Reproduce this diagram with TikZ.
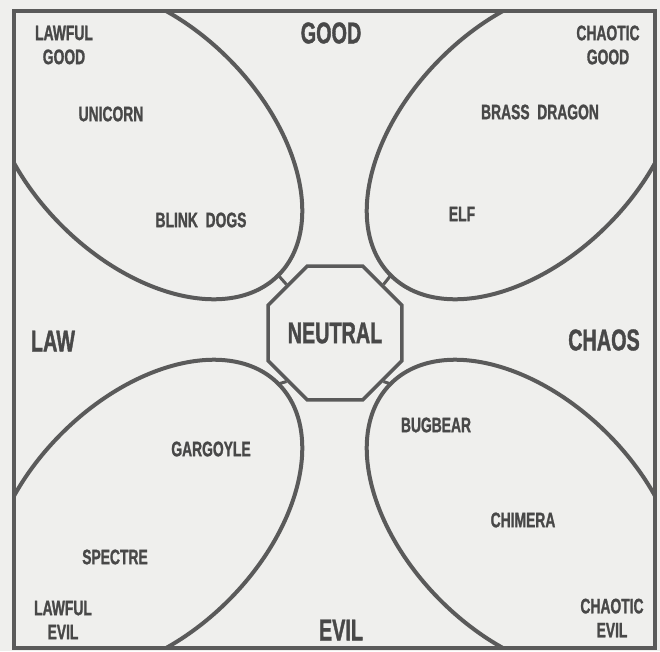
\documentclass[tikz,border=0pt]{standalone}
\usepackage{fontspec}
\setmainfont{Liberation Sans}[FakeStretch=0.66,FakeBold=1.2]
\usetikzlibrary{shapes.geometric}
\definecolor{lineg}{HTML}{5A5A5A}
\definecolor{inkg}{HTML}{484848}
\definecolor{paper}{HTML}{EFEFED}
\newcommand{\bigfont}{\fontsize{30}{32}\selectfont\bfseries}
\newcommand{\smallfont}{\fontsize{21}{24}\selectfont\bfseries}
\tikzset{
  frame/.style={draw=lineg,line width=4.5pt},
  lobe/.style={draw=lineg,line width=4pt},
  link/.style={draw=lineg,line width=3pt},
  axisname/.style={text=inkg,font=\bigfont,inner sep=0pt},
  cornername/.style={text=inkg,font=\smallfont,align=center,inner sep=0pt},
  monster/.style={text=inkg,font=\smallfont,inner sep=0pt},
  neutralbox/.style={regular polygon,regular polygon sides=8,draw=lineg,
    line width=3.5pt,minimum size=132pt,inner sep=0pt,font=\bigfont,text=inkg}}

\begin{document}
\begin{tikzpicture}[x=1pt,y=1pt]
  \fill[paper] (0,0) rectangle (660,-651);
  \useasboundingbox (0,0) rectangle (660,-651);
  % lobes, cut off by the frame
  \begin{scope}
    \clip (14,-11) rectangle (655,-648);
    \draw[lobe,rotate around={-45:(145,-142)}] (145,-142) ellipse [x radius=188.5,y radius=118];
    \draw[lobe,rotate around={45:(524,-142)}] (524,-142) ellipse [x radius=188.5,y radius=118];
    \draw[lobe,rotate around={45:(145,-517)}] (145,-517) ellipse [x radius=188.5,y radius=118];
    \draw[lobe,rotate around={-45:(524,-517)}] (524,-517) ellipse [x radius=188.5,y radius=118];
  \end{scope}
  \draw[frame] (14,-11) rectangle (655,-648);
  \coordinate (ulTip) at (278,-275);
  \coordinate (urTip) at (391,-275);
  \coordinate (llTip) at (278,-384);
  \coordinate (lrTip) at (391,-384);

  \node[neutralbox] (neutral) at (335,-333) {NEUTRAL};
  \draw[link] (neutral.135) -- (ulTip);
  \draw[link] (neutral.45) -- (urTip);
  \draw[link] (neutral.225) -- (llTip);
  \draw[link] (neutral.-45) -- (lrTip);

  \node[axisname] (good) at (331,-33) {GOOD};
  \node[axisname] (evil) at (341,-630) {EVIL};
  \node[axisname] (law) at (53,-341) {LAW};
  \node[axisname] (chaos) at (604,-340) {CHAOS};

  \node[cornername] (lg) at (64,-45) {LAWFUL\\GOOD};
  \node[cornername] (cg) at (608,-45) {CHAOTIC\\GOOD};
  \node[cornername] (le) at (63,-620) {LAWFUL\\EVIL};
  \node[cornername] (ce) at (612,-618) {CHAOTIC\\EVIL};

  \node[monster] (unicorn) at (111,-114) {UNICORN};
  \node[monster] (blink) at (201,-220) {BLINK\ \ DOGS};
  \node[monster] (brass) at (540,-112) {BRASS\ \ DRAGON};
  \node[monster] (elf) at (462,-214) {ELF};
  \node[monster] (gargoyle) at (211,-449) {GARGOYLE};
  \node[monster] (spectre) at (115,-557) {SPECTRE};
  \node[monster] (bugbear) at (436,-425) {BUGBEAR};
  \node[monster] (chimera) at (523,-520) {CHIMERA};
\end{tikzpicture}
\end{document}
